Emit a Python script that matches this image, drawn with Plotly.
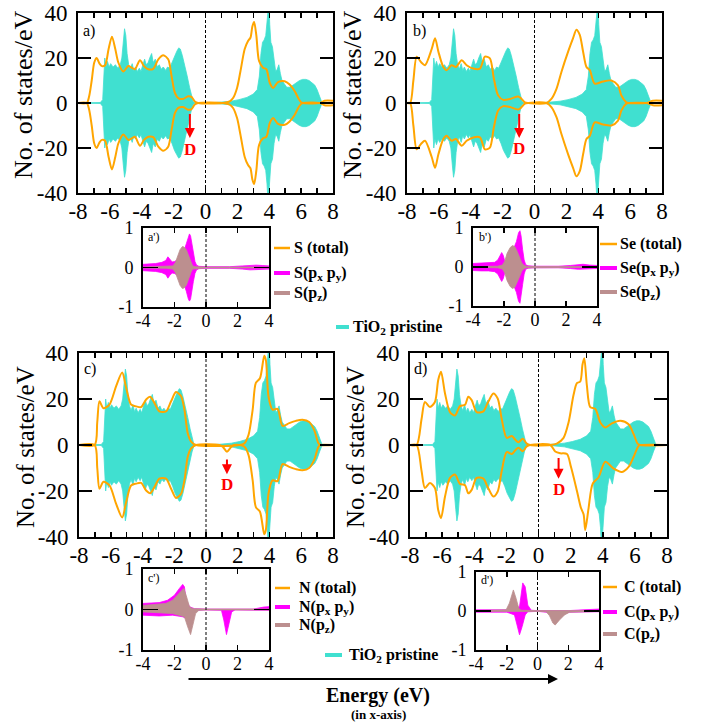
import plotly.graph_objects as go

# ---------------- DATA ----------------
# Pristine TiO2 total DOS envelope (shared by all main panels)
pristine_e = [-8.0, -6.6, -6.45, -6.38, -6.32, -6.25, -6.15, -6.05, -5.95, -5.8, -5.65, -5.5, -5.35, -5.25,
              -5.15, -5.08, -5.0, -4.92, -4.82, -4.72, -4.6, -4.5, -4.4, -4.28, -4.15, -4.05, -3.95, -3.82,
              -3.72, -3.6, -3.5, -3.38, -3.28, -3.15, -3.02, -2.9, -2.78, -2.65, -2.5, -2.38, -2.25, -2.1,
              -1.95, -1.8, -1.68, -1.58, -1.45, -1.3, -1.15, -1.0, -0.88, -0.78, -0.7, 0.3, 1.0, 1.6, 2.1,
              2.6, 3.0, 3.25, 3.38, 3.48, 3.58, 3.68, 3.78, 3.86, 3.93, 3.98, 4.03, 4.1, 4.2, 4.3, 4.4, 4.5,
              4.6, 4.7, 4.8, 4.95, 5.1, 5.3, 5.5, 5.7, 5.9, 6.1, 6.3, 6.5, 6.7, 6.85, 7.0, 7.15, 7.3, 8.0]
pristine_dos = [0, 0.2, 1.5, 12, 20, 16, 18.5, 16, 17.5, 16, 17, 15.5, 17, 20,
                28, 33, 30, 22, 17, 15, 17.5, 14.5, 16, 14, 15.5, 14, 16.5, 19.5,
                17, 18, 20, 22, 18, 19.5, 16, 17, 15, 16, 14.5, 16, 15.5, 18,
                21, 23, 24.5, 24, 21, 17, 12, 7, 3, 0.8, 0.2, 0.1, 0.4, 0.8, 1.5,
                2.5, 4, 6, 12, 22, 27, 28, 30, 36, 45, 45, 35, 27, 25, 18, 14, 15,
                17, 13, 10, 8.5, 7, 7, 8, 9, 10, 10.5, 10.5, 10, 9, 8, 6, 3, 0.3, 0]

# a) S-doped total DOS (spin up; spin down mirrors it)
a_e = [-8, -7.45, -7.3, -7.14, -6.98, -6.83, -6.65, -6.5, -6.3, -6.08, -5.87, -5.66, -5.47, -5.16, -4.84,
       -4.63, -4.43, -4.11, -3.86, -3.59, -3.28, -2.96, -2.65, -2.34, -2.13, -1.92, -1.71, -1.4, -1.09, -0.88,
       -0.67, -0.46, 1.1, 1.52, 1.73, 1.98, 2.19, 2.46, 2.67, 2.82, 2.94, 3.05, 3.19, 3.36, 3.61, 3.82, 4.03,
       4.24, 4.55, 4.97, 5.28, 5.6, 5.85, 6.01, 6.12, 7.16, 7.47, 8]
a_up = [0, 0, 3, 10, 18, 20, 17.5, 16.4, 16.8, 24, 29.5, 24, 18, 14, 16.4,
        15.7, 15, 19, 16.4, 15, 15.2, 19.4, 21.2, 19.4, 12, 4.5, 2.2, 1.8, 3, 2.7,
        0.7, 0, 0, 0.7, 2.2, 6.7, 14, 24, 27.6, 29, 34, 36, 30, 18.7, 15.7, 15, 9,
        6.7, 9.3, 9.7, 8.2, 5.2, 1.8, 0.3, 0, 0, 1, 1]
a_dn = a_up

# b) Se-doped total DOS
b_e = [-8, -7.8, -7.6, -7.39, -7.1, -6.87, -6.45, -6.24, -6.03, -5.72, -5.51, -5.2, -4.93, -4.57, -4.26,
       -3.84, -3.42, -3.11, -2.8, -2.55, -2.28, -1.96, -1.54, -1.02, -0.81, -0.6, -0.4, 0.75, 1.06, 1.38,
       1.69, 2.11, 2.42, 2.63, 2.84, 3.05, 3.26, 3.47, 3.78, 4.3, 4.82, 5.24, 5.45, 5.76, 5.9, 7.01, 7.43, 8]
b_up = [0, 0, 10, 20.6, 18, 16.8, 24, 28.8, 22.8, 16, 14.6, 16.8, 16, 19, 16.8,
        15.3, 15.3, 20.6, 19.8, 10.8, 3.3, 1.4, 1.8, 2.9, 1.8, 0.3, 0, 0, 1.8, 6.3,
        13.8, 22.8, 28.8, 32.6, 30.3, 22.8, 16, 14.6, 8.6, 9.6, 10, 7.8, 3.3, 0.3, 0, 0, 1, 1]
b_dn = b_up

# c) N-doped total DOS
c_e = [-8, -7.02, -6.85, -6.71, -6.46, -6.08, -5.66, -5.28, -5.03, -4.72, -4.4, -4.09, -3.77, -3.52, -3.25,
       -2.94, -2.52, -2.2, -1.89, -1.57, -1.36, -1.15, -0.94, -0.63, 2.1, 2.41, 2.68, 2.94, 3.14, 3.4, 3.67,
       3.77, 3.94, 4.19, 4.51, 4.82, 5.24, 5.66, 6.08, 6.5, 6.81, 7.09, 7.23, 8]
c_up = [0, 0, 10, 19, 16, 17.6, 25.6, 31.5, 24.9, 17.6, 16.8, 16.5, 19.8, 21, 18.3,
        14.6, 14.6, 19, 23, 21.2, 15.4, 5.1, 1.5, 0, 0, 0.7, 4.4, 15.4, 27, 29, 38.8,
        37, 21, 15.4, 15.7, 8.3, 9.5, 10.5, 11, 10, 6.6, 0.7, 0, 0]
c_dn_e = [-8, -7.02, -6.85, -6.71, -6.46, -6.08, -5.66, -5.28, -5.03, -4.72, -4.4, -4.09, -3.77, -3.52, -3.25,
          -2.94, -2.52, -2.2, -1.89, -1.57, -1.36, -1.15, -0.94, -0.63, 0.84, 1.05, 1.32, 1.57, 1.78, 2.1, 2.41,
          2.68, 2.94, 3.14, 3.4, 3.67, 3.77, 3.94, 4.19, 4.51, 4.82, 5.24, 5.66, 6.08, 6.5, 6.81, 7.09, 7.23, 8]
c_dn = [0, 0, 10, 19, 16, 17.6, 25.6, 31.5, 24.9, 17.6, 16.8, 16.5, 19.8, 21, 18.3,
        14.6, 14.6, 19, 23, 21.2, 15.4, 5.1, 1.5, 0, 0, 0.7, 2.9, 1, 0, 0, 0.7,
        4.4, 15.4, 27, 29, 38.8, 37, 21, 15.4, 15.7, 8.3, 9.5, 10.5, 11, 10, 6.6, 0.7, 0, 0]

# d) C-doped total DOS
d_e = [-8, -7.59, -7.28, -7.07, -6.76, -6.45, -6.24, -6.07, -5.82, -5.51, -5.2, -4.89, -4.57, -4.37, -4.16,
       -3.85, -3.43, -3.18, -2.81, -2.54, -2.29, -1.98, -1.66, -1.46, -1.25, -0.98, -0.73, -0.52, 0.73, 1.14,
       1.56, 1.87, 2.18, 2.39, 2.6, 2.74, 2.85, 3.01, 3.22, 3.53, 3.85, 4.16, 4.57, 5.09, 5.61, 5.93, 6.17,
       6.34, 8]
d_up = [0, 0, 11.3, 18.7, 16.5, 18.7, 28.4, 31.8, 22.4, 14.3, 12.8, 16.9, 17.5, 21, 19.5,
        14.3, 14.6, 18, 22.4, 20.2, 11.3, 3.1, 3.9, 2.4, 1.2, 2.7, 0.6, 0, 0, 0.6,
        3.1, 9.8, 21.7, 26.9, 27.6, 35, 37.7, 26, 16.5, 15.8, 9.8, 7.6, 9.4, 10.5, 9, 4.6, 0.6,
        0, 0]
d_dn_e = [-8, -7.59, -7.28, -7.07, -6.76, -6.45, -6.24, -6.07, -5.82, -5.51, -5.2, -4.89, -4.57, -4.37, -4.16,
          -3.85, -3.43, -3.18, -2.81, -2.54, -2.29, -1.98, -1.66, -1.46, -1.25, -0.98, -0.73, -0.52, 0.73, 1.04,
          1.35, 1.77, 2.02, 2.39, 2.64, 2.81, 2.91, 3.12, 3.37, 3.74, 4.16, 4.68, 5.2, 5.61, 5.93, 6.24, 6.4, 8]
d_dn = [0, 0, 11.3, 18.7, 16.5, 18.7, 28.4, 31.8, 22.4, 14.3, 12.8, 16.9, 17.5, 21, 19.5,
        14.3, 14.6, 18, 22.4, 20.2, 11.3, 3.1, 3.9, 2.4, 1.2, 2.7, 0.6, 0, 0, 2.8,
        3.6, 3.9, 9.5, 19.9, 27.3, 30.2, 37, 27.3, 16.9, 14, 7.3, 10.3, 11.7, 9.5, 5, 0.3, 0, 0]

# Insets: partial DOS of the dopant p-orbitals
ap_xy_e = [-4.0, -3.6, -3.2, -2.8, -2.55, -2.42, -2.3, -2.15, -2.0, -1.8, -1.6, -1.4, -1.25, -1.12, -1.05,
           -0.98, -0.9, -0.8, -0.7, -0.6, -0.45, 0.0, 1.5, 2.3, 2.8, 3.2, 3.6, 4.0]
ap_xy = [0.08, 0.09, 0.1, 0.13, 0.18, 0.27, 0.2, 0.14, 0.15, 0.2, 0.3, 0.42, 0.6, 0.8, 0.85,
         0.8, 0.6, 0.35, 0.15, 0.06, 0.03, 0.02, 0.02, 0.04, 0.06, 0.06, 0.05, 0.04]
ap_z_e = [-4.0, -2.5, -2.1, -1.95, -1.8, -1.65, -1.5, -1.4, -1.25, -1.1, -0.95, -0.85, -0.7, 0.0, 4.0]
ap_z = [0.01, 0.02, 0.04, 0.12, 0.3, 0.45, 0.53, 0.52, 0.45, 0.3, 0.12, 0.04, 0.02, 0.01, 0.01]

bp_xy_e = [-4.0, -3.5, -3.0, -2.6, -2.4, -2.25, -2.15, -2.05, -1.95, -1.8, -1.6, -1.4, -1.2, -1.06, -0.97,
           -0.9, -0.8, -0.7, -0.6, -0.45, 0.0, 1.5, 2.3, 2.8, 3.1, 3.5, 4.0]
bp_xy = [0.09, 0.1, 0.1, 0.12, 0.18, 0.3, 0.37, 0.3, 0.15, 0.18, 0.3, 0.45, 0.65, 0.88, 0.93,
         0.8, 0.45, 0.18, 0.06, 0.03, 0.02, 0.02, 0.04, 0.06, 0.07, 0.05, 0.04]
bp_z_e = [-4.0, -2.4, -2.1, -1.95, -1.8, -1.6, -1.45, -1.3, -1.15, -1.0, -0.85, -0.7, -0.55, 0.0, 4.0]
bp_z = [0.01, 0.02, 0.05, 0.15, 0.35, 0.5, 0.55, 0.52, 0.4, 0.25, 0.1, 0.04, 0.02, 0.01, 0.01]

cp_xy_up_e = [-4.0, -2.97, -2.44, -2.01, -1.69, -1.48, -1.37, -1.26, -1.05, -0.73, 0.0, 3.0, 3.66, 4.0]
cp_xy_up = [0.15, 0.17, 0.23, 0.35, 0.52, 0.62, 0.56, 0.23, 0.07, 0.02, 0.01, 0.01, 0.06, 0.07]
cp_xy_dn_e = [-4.0, -2.97, -2.12, -1.48, -1.16, -0.94, -0.62, 0.0, 0.98, 1.13, 1.3, 1.48, 1.63, 1.84, 4.0]
cp_xy_dn = [0.14, 0.16, 0.14, 0.18, 0.24, 0.1, 0.02, 0.01, 0.02, 0.26, 0.62, 0.3, 0.06, 0.01, 0.02]
cp_z_up_e = [-4.0, -2.55, -2.12, -1.69, -1.41, -1.26, -1.05, -0.83, 0.0, 4.0]
cp_z_up = [0.1, 0.15, 0.23, 0.4, 0.52, 0.35, 0.07, 0.02, 0.01, 0.01]
cp_z_dn_e = [-4.0, -2.12, -1.37, -1.16, -0.98, -0.83, -0.66, -0.45, 0.0, 4.0]
cp_z_dn = [0.06, 0.1, 0.18, 0.43, 0.62, 0.39, 0.1, 0.02, 0.01, 0.01]

dp_xy_up_e = [-4.0, -2.0, -1.17, -1.07, -0.96, -0.8, -0.63, -0.41, 0.0, 2.0, 3.0, 3.8, 4.0]
dp_xy_up = [0.03, 0.03, 0.11, 0.41, 0.72, 0.62, 0.15, 0.02, 0.01, 0.01, 0.03, 0.05, 0.05]
dp_xy_dn_e = [-4.0, -2.0, -1.5, -1.33, -1.17, -1.0, -0.8, -0.63, 0.0, 0.57, 1.0, 1.65, 2.09, 4.0]
dp_xy_dn = [0.03, 0.03, 0.1, 0.36, 0.61, 0.4, 0.1, 0.02, 0.01, 0.03, 0.1, 0.08, 0.03, 0.02]
dp_z_up_e = [-4.0, -2.04, -1.83, -1.65, -1.57, -1.39, -1.22, -1.07, 0.0, 4.0]
dp_z_up = [0.01, 0.03, 0.2, 0.49, 0.54, 0.32, 0.07, 0.02, 0.01, 0.01]
dp_z_dn_e = [-4.0, 0.0, 0.57, 0.78, 1.0, 1.15, 1.43, 1.76, 2.09, 4.0]
dp_z_dn = [0.01, 0.01, 0.02, 0.12, 0.31, 0.36, 0.23, 0.1, 0.03, 0.01]

main_ticks = list(range(-8, 9))
main_ticktext = [str(v) if v % 2 == 0 else "" for v in main_ticks]
dos_ticks = [-40, -20, 0, 20, 40]
inset_xticks = [-4, -2, 0, 2, 4]
inset_yticks = [-1, 0, 1]

legend_sets = {
    "a": ["S (total)", "S(p<sub>x</sub> p<sub>y</sub>)", "S(p<sub>z</sub>)"],
    "b": ["Se (total)", "Se(p<sub>x</sub> p<sub>y</sub>)", "Se(p<sub>z</sub>)"],
    "c": ["N (total)", "N(p<sub>x</sub> p<sub>y</sub>)", "N(p<sub>z</sub>)"],
    "d": ["C (total)", "C(p<sub>x</sub> p<sub>y</sub>)", "C(p<sub>z</sub>)"],
}

# ---------------- STYLE / LAYOUT ----------------
W, H = 705, 725
FONT = "Liberation Serif, Times New Roman, serif"
CYAN = "#40E0D0"
ORANGE = "#FFA500"
MAGENTA = "#FF00FF"
ROSY = "#BC8F8F"


def px_x(p):
    return p / W


def px_y(p):
    return 1 - p / H


# pixel boxes (x0, x1, ytop, ybottom)
boxes = {
    1: (78, 333, 13, 193), 2: (407, 662, 13, 193),
    3: (79, 333, 353, 537), 4: (410, 667, 353, 537),
    5: (143, 269, 228, 307), 6: (473, 597, 228, 306),
    7: (143, 269, 569, 650), 8: (476, 599, 572, 650),
}

fig = go.Figure()


def ax_names(i):
    return ("x" if i == 1 else f"x{i}"), ("y" if i == 1 else f"y{i}")


def add_fill(i, e_up, up, e_dn, dn, color):
    xa, ya = ax_names(i)
    xs = list(e_up) + list(e_dn)[::-1]
    ys = list(up) + [-v for v in list(dn)[::-1]]
    fig.add_trace(go.Scatter(x=xs, y=ys, mode="lines", fill="toself", fillcolor=color,
                             line=dict(color=color, width=0.8), xaxis=xa, yaxis=ya,
                             hoverinfo="skip", showlegend=False))


def add_total(i, e_up, up, e_dn, dn):
    xa, ya = ax_names(i)
    fig.add_trace(go.Scatter(x=e_up, y=up, mode="lines", line=dict(color=ORANGE, width=2, shape="spline", smoothing=0.8),
                             xaxis=xa, yaxis=ya, hoverinfo="skip", showlegend=False))
    fig.add_trace(go.Scatter(x=e_dn, y=[-v for v in dn], mode="lines",
                             line=dict(color=ORANGE, width=2, shape="spline", smoothing=0.8),
                             xaxis=xa, yaxis=ya, hoverinfo="skip", showlegend=False))


# main panels
main_data = {1: (a_e, a_up, a_e, a_dn), 2: (b_e, b_up, b_e, b_dn),
             3: (c_e, c_up, c_dn_e, c_dn), 4: (d_e, d_up, d_dn_e, d_dn)}
for i, (eu, u, ed, dd) in main_data.items():
    add_fill(i, pristine_e, pristine_dos, pristine_e, pristine_dos, CYAN)
    add_total(i, eu, u, ed, dd)

# insets
add_fill(5, ap_xy_e, ap_xy, ap_xy_e, ap_xy, MAGENTA)
add_fill(5, ap_z_e, ap_z, ap_z_e, ap_z, ROSY)
add_fill(6, bp_xy_e, bp_xy, bp_xy_e, bp_xy, MAGENTA)
add_fill(6, bp_z_e, bp_z, bp_z_e, bp_z, ROSY)
add_fill(7, cp_xy_up_e, cp_xy_up, cp_xy_dn_e, cp_xy_dn, MAGENTA)
add_fill(7, cp_z_up_e, cp_z_up, cp_z_dn_e, cp_z_dn, ROSY)
add_fill(8, dp_xy_up_e, dp_xy_up, dp_xy_dn_e, dp_xy_dn, MAGENTA)
add_fill(8, dp_z_up_e, dp_z_up, dp_z_dn_e, dp_z_dn, ROSY)

layout = dict(width=W, height=H, margin=dict(l=0, r=0, t=0, b=0, autoexpand=False),
              paper_bgcolor="white", plot_bgcolor="white", showlegend=False,
              font=dict(family=FONT, color="black"))

for i, (x0, x1, yt, yb) in boxes.items():
    xk = "xaxis" if i == 1 else f"xaxis{i}"
    yk = "yaxis" if i == 1 else f"yaxis{i}"
    xa, ya = ax_names(i)
    common = dict(showline=True, linewidth=2, linecolor="black", mirror="allticks",
                  ticks="inside", tickwidth=1.5, tickcolor="black", showgrid=False,
                  zeroline=False, fixedrange=True, automargin=False)
    if i <= 4:
        layout[xk] = dict(domain=[px_x(x0), px_x(x1)], anchor=ya, range=[-8, 8],
                          tickmode="array", tickvals=main_ticks, ticktext=main_ticktext,
                          ticklen=5, tickfont=dict(size=23, family=FONT), ticklabelstandoff=-4, **common)
        layout[yk] = dict(domain=[px_y(yb), px_y(yt)], anchor=xa, range=[-40, 40],
                          tickmode="array", tickvals=dos_ticks, ticktext=[str(v) for v in dos_ticks],
                          ticklen=13, tickfont=dict(size=23, family=FONT), ticklabelstandoff=4, **common)
    else:
        layout[xk] = dict(domain=[px_x(x0), px_x(x1)], anchor=ya, range=[-4, 4],
                          tickmode="array", tickvals=inset_xticks, ticktext=[str(v) for v in inset_xticks],
                          ticklen=5, tickfont=dict(size=18, family=FONT), ticklabelstandoff=-4, **common)
        layout[yk] = dict(domain=[px_y(yb), px_y(yt)], anchor=xa, range=[-1, 1],
                          tickmode="array", tickvals=inset_yticks, ticktext=[str(v) for v in inset_yticks],
                          ticklen=15, tickfont=dict(size=18, family=FONT), ticklabelstandoff=4, **common)

shapes = []
annotations = []

# dashed Fermi level lines
for i in range(1, 9):
    xa, ya = ax_names(i)
    lim = 40 if i <= 4 else 1
    shapes.append(dict(type="line", xref=xa, yref=ya, x0=0, x1=0, y0=-lim, y1=lim,
                       line=dict(color="black", width=1, dash="3px,2px")))

# panel labels
for txt, x, y, size in [("a)", 81, 31, 16), ("b)", 411, 31, 16), ("c)", 82, 369, 16), ("d)", 412, 369, 16),
                        ("a')", 146, 237, 12), ("b')", 477, 237, 12), ("c')", 146, 578, 12),
                        ("d')", 479, 580, 12)]:
    annotations.append(dict(text=txt, x=px_x(x), y=px_y(y), xref="paper", yref="paper",
                            xanchor="left", yanchor="middle", showarrow=False,
                            font=dict(size=size, family=FONT)))

# y titles
for x, y, size in [(23, 95, 26), (352, 95, 26), (25, 447, 25), (355, 447, 25)]:
    annotations.append(dict(text="No. of states/eV", x=px_x(x), y=px_y(y), xref="paper", yref="paper",
                            xanchor="center", yanchor="middle", textangle=-90, showarrow=False,
                            font=dict(size=size, family=FONT)))

# defect level arrows and labels
for i, xv, ytail, yhead, ylab in [(1, -0.98, -4.2, -15.5, -20.5), (2, -0.96, -4.2, -15.5, -20.4),
                                  (3, 1.32, -5.6, -12.7, -17.1), (4, 1.25, -5.0, -14.7, -19.3)]:
    xa, ya = ax_names(i)
    annotations.append(dict(text="", x=xv, y=yhead, ax=xv, ay=ytail, xref=xa, yref=ya, axref=xa, ayref=ya,
                            showarrow=True, arrowhead=2, arrowsize=1, arrowwidth=2, arrowcolor="red"))
    annotations.append(dict(text="<b>D</b>", x=xv, y=ylab, xref=xa, yref=ya, showarrow=False,
                            font=dict(size=17, family=FONT, color="red")))

# inset legends
leg_pos = {
    "a": dict(lx=(274, 290), tx=292, ys=[248, 273, 293]),
    "b": dict(lx=(600, 617), tx=618, ys=[244, 268, 292]),
    "c": dict(lx=(275, 290), tx=297, ys=[588, 607, 625]),
    "d": dict(lx=(603, 617), tx=622, ys=[587, 612, 634]),
}
leg_colors = [ORANGE, MAGENTA, ROSY]
leg_widths = [2.5, 4, 4]
for key, pos in leg_pos.items():
    for txt, yv, col, lw in zip(legend_sets[key], pos["ys"], leg_colors, leg_widths):
        shapes.append(dict(type="line", xref="paper", yref="paper", x0=px_x(pos["lx"][0]), x1=px_x(pos["lx"][1]),
                           y0=px_y(yv), y1=px_y(yv), line=dict(color=col, width=lw)))
        annotations.append(dict(text=f"<b>{txt}</b>", x=px_x(pos["tx"]), y=px_y(yv), xref="paper", yref="paper",
                                xanchor="left", yanchor="middle", showarrow=False,
                                font=dict(size=16, family=FONT)))

# TiO2 pristine legends
for lx0, lx1, tx, yv in [(336, 349, 351, 327), (325, 342, 347, 655)]:
    shapes.append(dict(type="line", xref="paper", yref="paper", x0=px_x(lx0), x1=px_x(lx1),
                       y0=px_y(yv), y1=px_y(yv), line=dict(color=CYAN, width=4)))
    annotations.append(dict(text="<b>TiO<sub>2</sub> pristine</b>", x=px_x(tx), y=px_y(yv), xref="paper",
                            yref="paper", xanchor="left", yanchor="middle", showarrow=False,
                            font=dict(size=16, family=FONT)))

# energy axis arrow and label
annotations.append(dict(text="", x=px_x(558), y=px_y(679), xref="paper", yref="paper",
                        ax=-371, ay=0, showarrow=True, arrowhead=2, arrowsize=1, arrowwidth=2,
                        arrowcolor="black"))
annotations.append(dict(text="<b>Energy (eV)</b>", x=px_x(378), y=px_y(695), xref="paper", yref="paper",
                        xanchor="center", yanchor="middle", showarrow=False, font=dict(size=20, family=FONT)))
annotations.append(dict(text="<b>(in x-axis)</b>", x=px_x(378), y=px_y(714), xref="paper", yref="paper",
                        xanchor="center", yanchor="middle", showarrow=False, font=dict(size=13, family=FONT)))

layout["shapes"] = shapes
layout["annotations"] = annotations
fig.update_layout(**layout)
fig.write_html("out.html", config={"displayModeBar": False, "staticPlot": True},
               post_script="document.body.style.margin='0';document.body.style.padding='0';"
                           "document.body.style.overflow='hidden';")
